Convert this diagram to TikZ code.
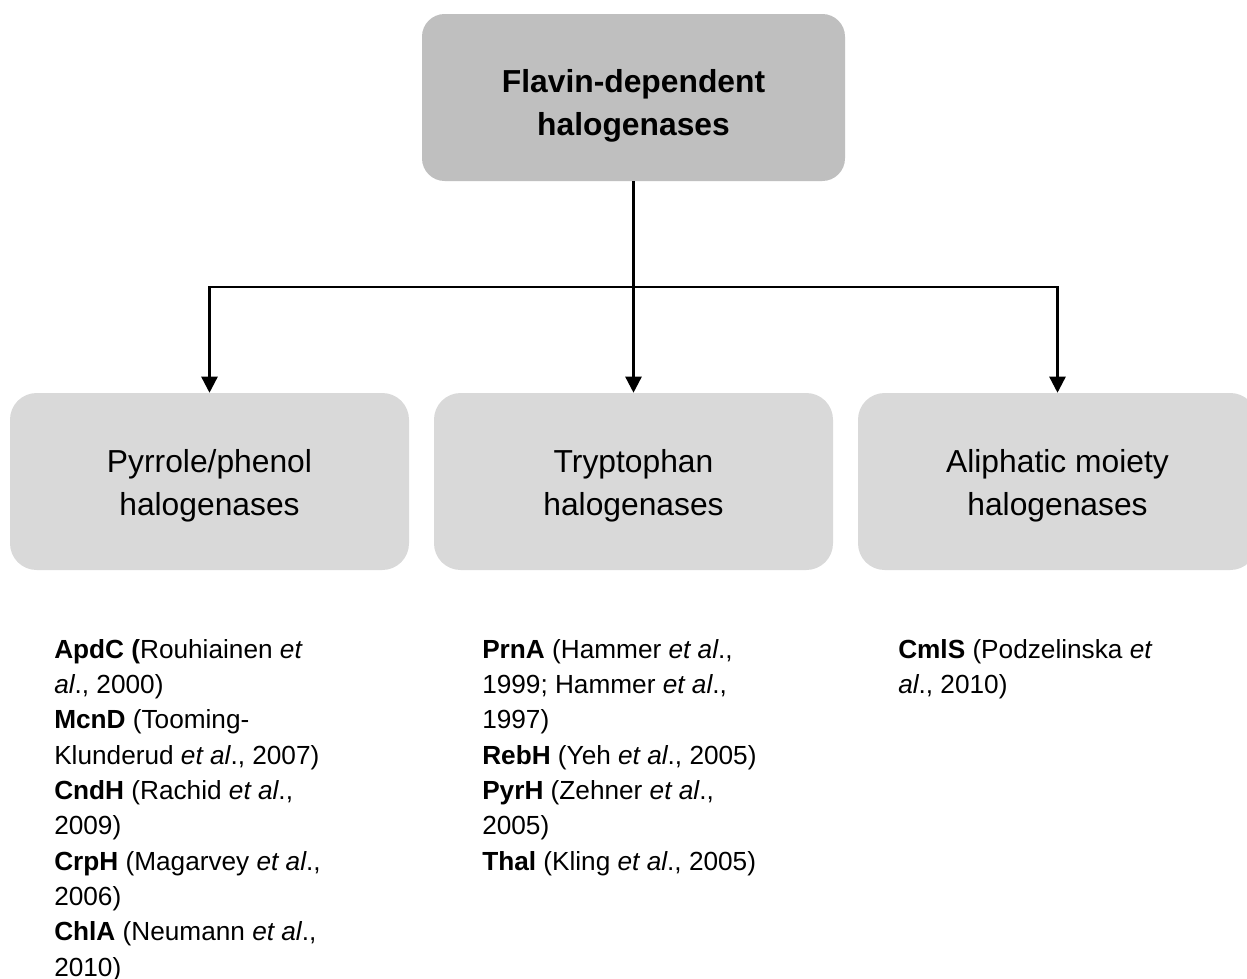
\documentclass[tikz,border=0pt]{standalone}
\usepackage{fontspec}
\setmainfont{Liberation Sans}
\usetikzlibrary{arrows.meta}
\definecolor{topgray}{HTML}{BFBFBF}
\definecolor{subgray}{HTML}{D9D9D9}
\begin{document}
\begin{tikzpicture}[x=0.75pt,y=-0.75pt,
  topbox/.style={fill=topgray,draw=none,rounded corners=17pt,inner sep=0pt,
    minimum width=317.25pt,minimum height=125.25pt,align=center,
    font=\fontsize{23.85}{32.25}\selectfont\bfseries},
  subbox/.style={fill=subgray,draw=none,rounded corners=20pt,inner sep=0pt,
    minimum width=299.25pt,minimum height=132.75pt,align=center,
    font=\fontsize{23.85}{32.25}\selectfont},
  reflist/.style={anchor=north west,inner sep=0pt,align=left,
    font=\fontsize{19.65}{26.5}\selectfont},
  conn/.style={line width=1.8pt,draw=black},
  arr/.style={conn,-{Triangle[width=12pt,length=12pt]}}
]
\clip (0,0) rectangle (1247,979);
\fill[white] (0,0) rectangle (1247,979);

\node[topbox] (top) at (633.5,97.5) {\rule{0pt}{30pt}Flavin-dependent\\halogenases\rule[-6pt]{0pt}{6pt}};

\node[subbox] (b1) at (209.5,481.5) {\rule{0pt}{24pt}Pyrrole/phenol\\halogenases\rule[-6pt]{0pt}{6pt}};
\node[subbox] (b2) at (633.5,481.5) {\rule{0pt}{24pt}Tryptophan\\halogenases\rule[-6pt]{0pt}{6pt}};
\node[subbox] (b3) at (1057.5,481.5) {\rule{0pt}{24pt}Aliphatic moiety\\halogenases\rule[-6pt]{0pt}{6pt}};

\coordinate (hub) at (633.5,287);
\draw[conn] (top.south) -- (hub);
\draw[arr] (hub) -| (b1.north);
\draw[arr] (hub) -- (b2.north);
\draw[arr] (hub) -| (b3.north);

\node[reflist] (l1) at (54,631.3) {\rule{0pt}{20pt}\textbf{ApdC (}Rouhiainen \textit{et}\\
\textit{al}., 2000)\\
\textbf{McnD} (Tooming-\\
Klunderud \textit{et al}., 2007)\\
\textbf{CndH} (Rachid \textit{et al}.,\\
2009)\\
\textbf{CrpH} (Magarvey \textit{et al}.,\\
2006)\\
\textbf{ChlA} (Neumann \textit{et al}.,\\
2010)};

\node[reflist] (l2) at (482,631.3) {\rule{0pt}{20pt}\textbf{PrnA} (Hammer \textit{et al}.,\\
1999; Hammer \textit{et al}.,\\
1997)\\
\textbf{RebH} (Yeh \textit{et al}., 2005)\\
\textbf{PyrH} (Zehner \textit{et al}.,\\
2005)\\
\textbf{Thal} (Kling \textit{et al}., 2005)};

\node[reflist] (l3) at (898,631.3) {\rule{0pt}{20pt}\textbf{CmlS} (Podzelinska \textit{et}\\
\textit{al}., 2010)};
\end{tikzpicture}
\end{document}
